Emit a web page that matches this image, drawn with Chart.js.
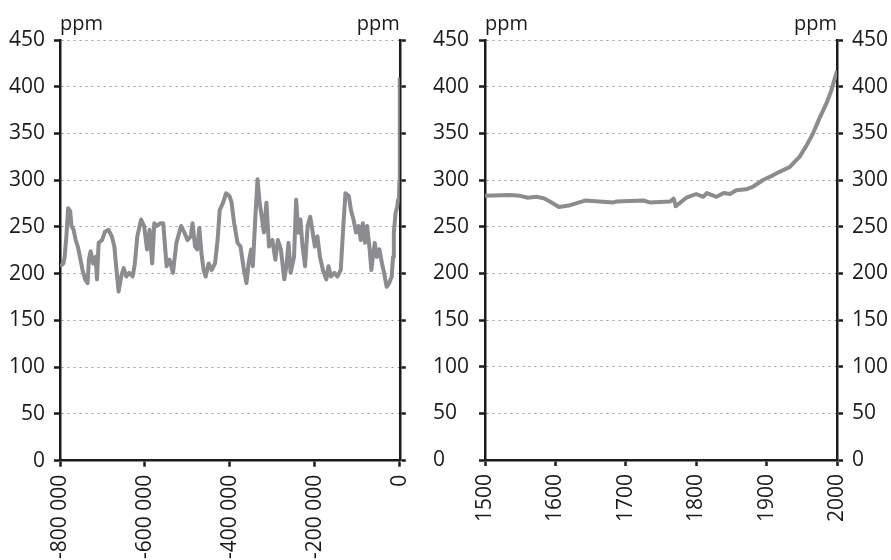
<!DOCTYPE html>
<html>
<head>
<meta charset="utf-8">
<script src="https://cdn.jsdelivr.net/npm/chart.js@4"></script>
<style>
  body { margin: 0; background: #fff; }
  #wrap { position: relative; width: 891px; height: 560px; overflow: hidden; }
  canvas { position: absolute; top: 0; }
  #c1 { left: 0; }
  #c2 { left: 433px; }
</style>
</head>
<body>
<div id="wrap">
  <canvas id="c1" width="433" height="560"></canvas>
  <canvas id="c2" width="458" height="560"></canvas>
</div>
<script>
/*=================================
      data
=================================*/
var yTicks = [0, 50, 100, 150, 200, 250, 300, 350, 400, 450];
var unitLabel = "ppm";

// left panel: years before present, ppm
var iceYears = [-800000, -792000, -789000, -785000, -781000, -776000, -773000, -768000, -763000, -758000,
  -753000, -747000, -741000, -735000, -732000, -728000, -722000, -716000, -713000, -709000,
  -701000, -694000, -686000, -678000, -672000, -667000, -662000, -656000, -650000, -644000,
  -637000, -629000, -624000, -618000, -609000, -602000, -595000, -589000, -583000, -578000,
  -572000, -564000, -557000, -549000, -542000, -534000, -526000, -515000, -507000, -500000,
  -492000, -488000, -482000, -477000, -472000, -467000, -462000, -457000, -450000, -443000,
  -435000, -429000, -424000, -416000, -409000, -401000, -396000, -390000, -382000, -375000,
  -367000, -361000, -356000, -350000, -346000, -340000, -335000, -330000, -325000, -320000,
  -314000, -308000, -300000, -293000, -287000, -280000, -272000, -267000, -262000, -257000,
  -249000, -244000, -239000, -234000, -229000, -223000, -217000, -211000, -206000, -200000,
  -194000, -188000, -181000, -173000, -168000, -162000, -154000, -147000, -139000, -133000,
  -128000, -120000, -115000, -109000, -103000, -97000, -92000, -87000, -82000, -77000,
  -71000, -67000, -59000, -54000, -48000, -42000, -37000, -31000, -25000, -19000,
  -16000, -14000, -10000, -6000, -4000, -2000, -800, 0];
var icePpm = [208, 211, 218, 240, 270, 267, 251, 247, 236, 229,
  218, 204, 194, 190, 215, 224, 211, 218, 194, 233,
  236, 245, 247, 240, 229, 204, 181, 197, 206, 197,
  201, 197, 210, 240, 258, 251, 226, 247, 211, 254,
  251, 254, 254, 208, 215, 201, 233, 251, 244, 236,
  240, 254, 229, 226, 249, 222, 204, 197, 211, 204,
  211, 236, 268, 276, 286, 283, 276, 254, 233, 229,
  204, 190, 211, 226, 208, 261, 301, 276, 261, 244,
  276, 229, 236, 215, 236, 226, 194, 208, 233, 201,
  218, 279, 244, 258, 229, 208, 251, 261, 247, 229,
  240, 218, 204, 194, 208, 197, 201, 197, 204, 251,
  286, 283, 268, 258, 244, 251, 236, 254, 233, 251,
  226, 204, 233, 218, 226, 211, 201, 186, 190, 197,
  218, 244, 265, 272, 279, 280, 300, 410];

// right panel: calendar years, ppm
var recentYears = [1500, 1535, 1550, 1561, 1573, 1585, 1592, 1605, 1621, 1642,
  1682, 1687, 1725, 1734, 1763, 1768, 1771, 1786, 1800, 1810,
  1815, 1829, 1839, 1848, 1857, 1871, 1881, 1895, 1909, 1919,
  1933, 1947, 1956, 1966, 1975, 1985, 1992, 2000];
var recentPpm = [283, 284, 283, 281, 282, 280, 277, 271, 273, 278,
  276, 277, 278, 276, 277, 280, 272, 281, 285, 282,
  286, 282, 286, 285, 289, 290, 293, 300, 305, 309,
  314, 325, 336, 350, 366, 382, 396, 417];

/*=================================
      shared styles
=================================*/
var ink = "#1c1a1b";
var lineGrey = "#8b8b90";
var tickFont = { family: "'Open Sans'", size: 21 };

function toPoints(xs, ys) {
  return xs.map(function (x, i) { return { x: x, y: ys[i] }; });
}

function spaced(v) {
  var s = String(Math.abs(v)).replace(/\B(?=(\d{3})+(?!\d))/g, " ");
  return (v < 0 ? "-" : "") + s;
}

// "ppm" above both ends of each plot
var unitPlugin = {
  id: "units",
  afterDraw: function (chart) {
    var ctx = chart.ctx, a = chart.chartArea;
    ctx.save();
    ctx.font = "20px 'Open Sans'";
    ctx.fillStyle = ink;
    ctx.textBaseline = "alphabetic";
    ctx.textAlign = "left";
    ctx.fillText(unitLabel, a.left, 30);
    ctx.textAlign = "right";
    ctx.fillText(unitLabel, a.right, 30);
    ctx.restore();
  },
};

function yAxis(pos, width, showGrid, labels, align) {
  return {
    type: "linear",
    position: pos,
    min: 0,
    max: 450,
    afterBuildTicks: function (s) { s.ticks = yTicks.map(function (v) { return { value: v }; }); },
    afterFit: function (s) { s.width = width; },
    grid: {
      display: true,
      drawOnChartArea: showGrid,
      color: "#9a9a9a",
      lineWidth: 1,
      drawTicks: true,
      tickLength: 6,
      tickWidth: 2.5,
      tickColor: ink,
    },
    border: { display: true, color: ink, width: 2.5, dash: [2, 4] },
    ticks: {
      display: labels,
      color: ink,
      font: tickFont,
      padding: align === "far" ? 0 : 9,
      crossAlign: align || "near",
    },
  };
}

function xAxis(min, max, step, height, fmt) {
  return {
    type: "linear",
    position: "bottom",
    min: min,
    max: max,
    afterFit: function (s) { s.height = height; },
    grid: {
      display: true,
      drawOnChartArea: false,
      drawTicks: true,
      tickLength: 6,
      tickWidth: 2.5,
      tickColor: ink,
    },
    border: { display: true, color: ink, width: 2.5 },
    ticks: {
      stepSize: step,
      color: ink,
      font: tickFont,
      padding: 8,
      minRotation: 90,
      maxRotation: 90,
      autoSkip: false,
      callback: fmt,
    },
  };
}

function lineSet(xs, ys) {
  return {
    data: toPoints(xs, ys),
    borderColor: lineGrey,
    borderWidth: 4,
    pointRadius: 0,
    tension: 0,
    borderJoinStyle: "round",
  };
}

var common = {
  responsive: false,
  animation: false,
  events: [],
  plugins: { legend: { display: false }, tooltip: { enabled: false } },
};

/*=================================
      left chart: 800 000 years
=================================*/
new Chart("c1", {
  type: "line",
  data: { datasets: [lineSet(iceYears, icePpm)] },
  options: Object.assign({}, common, {
    layout: { padding: { top: 40, left: 0, right: 0, bottom: 0 } },
    scales: {
      x: xAxis(-800000, 0, 200000, 99.3, function (v) { return spaced(v); }),
      y: yAxis("left", 60, true, true),
      y2: yAxis("right", 22, false, false),
    },
  }),
  plugins: [unitPlugin],
});

/*=================================
      right chart: 1500-2000
=================================*/
new Chart("c2", {
  type: "line",
  data: { datasets: [lineSet(recentYears, recentPpm)] },
  options: Object.assign({}, common, {
    layout: { padding: { top: 40, left: 0, right: 0, bottom: 0 } },
    scales: {
      x: xAxis(1500, 2000, 100, 100, function (v) { return String(v); }),
      y: yAxis("left", 52, true, true, "far"),
      y2: yAxis("right", 54, false, true),
    },
  }),
  plugins: [unitPlugin],
});
</script>
</body>
</html>
